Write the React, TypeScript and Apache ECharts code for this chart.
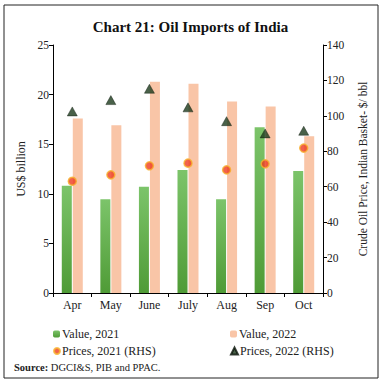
import React, { useEffect, useRef } from "react";
import * as echarts from "echarts";

const categories = ["Apr", "May", "June", "July", "Aug", "Sep", "Oct"];
const value2021 = [10.8, 9.45, 10.7, 12.4, 9.45, 16.7, 12.3];
const value2022 = [17.6, 16.9, 21.3, 21.1, 19.3, 18.8, 15.8];
const prices2021 = [63.1, 66.7, 71.8, 73.3, 69.5, 72.9, 81.8];
const prices2022 = [102.5, 108.9, 115.3, 104.8, 97.0, 90.1, 91.6];
const leftTicks = { min: 0, max: 25, interval: 5 };
const rightTicks = { min: 0, max: 140, interval: 20 };

const SERIF = "'Liberation Serif', 'DejaVu Serif', serif";

export default function App() {
  const ref = useRef<HTMLDivElement>(null);
  useEffect(() => {
    if (!ref.current) return;
    const chart = echarts.init(ref.current, null, { renderer: "svg" });
    const legendText = { fontFamily: SERIF, fontSize: 12, color: "#222" };
    chart.setOption({
      animation: false,
      backgroundColor: "#fff",
      textStyle: { fontFamily: SERIF },
      title: {
        text: "Chart 21: Oil Imports of India",
        left: "center",
        top: 14,
        textStyle: { fontFamily: SERIF, fontSize: 15, fontWeight: "bold", color: "#111" },
      },
      grid: { left: 53, right: 58, top: 45, bottom: 89 },
      legend: [
        { data: ["Value, 2021"], left: 53, top: 328, itemWidth: 7, itemHeight: 7 },
        { data: ["Value, 2022"], left: 230, top: 328, itemWidth: 7, itemHeight: 7 },
        { data: ["Prices, 2021 (RHS)"], left: 53, top: 345, itemWidth: 6, itemHeight: 6 },
        { data: ["Prices, 2022 (RHS)"], left: 230, top: 345, itemWidth: 7, itemHeight: 7 },
      ].map((l) => ({
        ...l,
        itemGap: 2,
        padding: 0,
        textStyle: { ...legendText, padding: [0, 0, 0, -3] },
      })),
      xAxis: {
        type: "category",
        data: categories,
        axisLine: { lineStyle: { color: "#000", width: 1 } },
        axisTick: { show: true, length: 4, lineStyle: { color: "#000" } },
        axisLabel: { fontFamily: SERIF, fontSize: 12, color: "#222", margin: 6 },
      },
      yAxis: [
        {
          type: "value",
          ...leftTicks,
          name: "US$ billion",
          nameLocation: "middle",
          nameGap: 24,
          nameTextStyle: { fontFamily: SERIF, fontSize: 12, color: "#222" },
          axisLine: { show: true, lineStyle: { color: "#000" } },
          axisTick: { show: true, length: 4, lineStyle: { color: "#000" } },
          axisLabel: { fontFamily: SERIF, fontSize: 11.5, color: "#222", margin: 4 },
          splitLine: { show: false },
        },
        {
          type: "value",
          ...rightTicks,
          position: "right",
          name: "Crude Oil Price, Indian Basket- $/ bbl",
          nameLocation: "middle",
          nameGap: 34,
          nameRotate: 90,
          nameTextStyle: { fontFamily: SERIF, fontSize: 11.5, color: "#222" },
          axisLine: { show: true, lineStyle: { color: "#000" } },
          axisTick: { show: true, length: 4, lineStyle: { color: "#000" } },
          axisLabel: { fontFamily: SERIF, fontSize: 11.5, color: "#222", margin: 4 },
          splitLine: { show: false },
        },
      ],
      series: [
        {
          name: "Value, 2021",
          type: "bar",
          data: value2021,
          barWidth: 10,
          barGap: "10%",
          itemStyle: {
            color: new echarts.graphic.LinearGradient(0, 0, 0, 1, [
              { offset: 0, color: "#7cc46a" },
              { offset: 1, color: "#4f9b36" },
            ]),
          },
        },
        {
          name: "Value, 2022",
          type: "bar",
          data: value2022,
          barWidth: 10,
          itemStyle: { color: "#f9c5a7" },
        },
        {
          name: "Prices, 2021 (RHS)",
          type: "scatter",
          yAxisIndex: 1,
          data: prices2021,
          symbol: "circle",
          symbolSize: 8,
          z: 5,
          itemStyle: { color: "#ee3b1f", borderColor: "#f7b02a", borderWidth: 1.5 },
        },
        {
          name: "Prices, 2022 (RHS)",
          type: "scatter",
          yAxisIndex: 1,
          data: prices2022,
          symbol: "triangle",
          symbolSize: [10, 9],
          z: 5,
          itemStyle: { color: "#1c3a1c", borderColor: "#0a140a", borderWidth: 0.5 },
        },
      ],
      graphic: [
        {
          type: "rect",
          shape: { x: 4, y: 5, width: 374, height: 373 },
          style: { fill: "none", stroke: "#222", lineWidth: 1 },
          silent: true,
        },
        {
          type: "text",
          x: 14,
          y: 362,
          style: {
            text: "{b|Source:} DGCI&S, PIB and PPAC.",
            rich: {
              b: { fontFamily: SERIF, fontSize: 10.5, fontWeight: "bold", fill: "#222" },
            },
            fontFamily: SERIF,
            fontSize: 10.5,
            fill: "#222",
          },
        },
      ],
    });
    return () => chart.dispose();
  }, []);
  return (
    <div
      ref={ref}
      style={{ width: 381, height: 382, position: "absolute", left: 0, top: 0 }}
    />
  );
}
